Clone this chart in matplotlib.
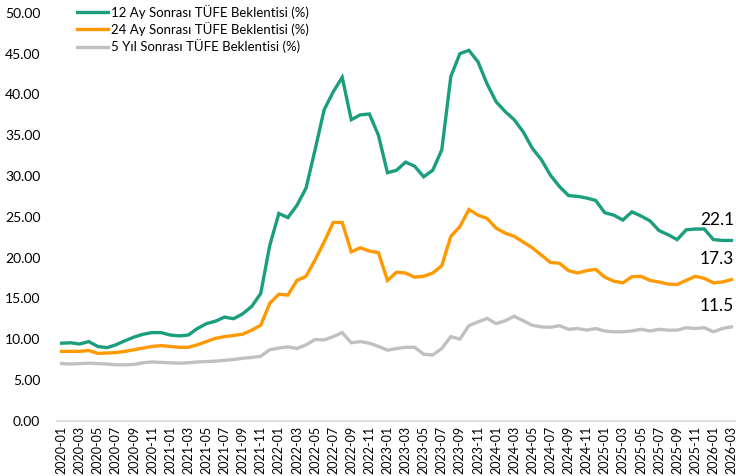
import matplotlib
matplotlib.use("Agg")
import matplotlib.pyplot as plt
import numpy as np
import pandas as pd

# aylar: 2020-01 .. 2026-03
months = pd.period_range("2020-01", "2026-03", freq="M").strftime("%Y-%m").tolist()

# 12 ay sonrasi TUFE beklentisi (%)
tufe_12ay = [
    9.5, 9.55, 9.4, 9.7, 9.1, 8.95, 9.3, 9.8, 10.25, 10.6, 10.8, 10.8,
    10.5, 10.4, 10.5, 11.3, 11.9, 12.2, 12.7, 12.5, 13.1, 14.0, 15.6, 21.5,
    25.4, 24.9, 26.4, 28.5, 33.2, 38.1, 40.3, 42.1, 36.9, 37.5, 37.6, 35.0,
    30.4, 30.7, 31.7, 31.2, 29.9, 30.7, 33.2, 42.2, 45.0, 45.4, 44.0, 41.3,
    39.1, 37.9, 36.9, 35.4, 33.4, 32.0, 30.1, 28.7, 27.6, 27.5, 27.3, 27.0,
    25.5, 25.2, 24.6, 25.6, 25.1, 24.5, 23.3, 22.8, 22.2, 23.4, 23.5, 23.5,
    22.2, 22.1, 22.1,
]

# 24 ay sonrasi
tufe_24ay = [
    8.5, 8.5, 8.5, 8.6, 8.25, 8.3, 8.35, 8.5, 8.7, 8.9, 9.1, 9.2,
    9.1, 9.0, 9.0, 9.3, 9.7, 10.1, 10.3, 10.45, 10.6, 11.1, 11.7, 14.4,
    15.5, 15.4, 17.2, 17.7, 19.7, 21.9, 24.3, 24.3, 20.7, 21.2, 20.8, 20.6,
    17.2, 18.2, 18.1, 17.6, 17.7, 18.1, 19.0, 22.6, 23.8, 25.9, 25.2, 24.8,
    23.6, 23.0, 22.6, 21.9, 21.2, 20.3, 19.4, 19.3, 18.4, 18.1, 18.4, 18.55,
    17.6, 17.1, 16.9, 17.65, 17.7, 17.2, 17.0, 16.75, 16.7, 17.2, 17.7, 17.45,
    16.9, 17.0, 17.3,
]

# 5 yil sonrasi
tufe_5yil = [
    7.0, 6.95, 7.0, 7.05, 7.0, 6.95, 6.85, 6.85, 6.9, 7.1, 7.2, 7.15,
    7.1, 7.05, 7.1, 7.2, 7.25, 7.3, 7.4, 7.5, 7.65, 7.75, 7.9, 8.7,
    8.9, 9.05, 8.85, 9.3, 9.95, 9.9, 10.3, 10.8, 9.55, 9.7, 9.5, 9.1,
    8.65, 8.85, 9.0, 9.0, 8.15, 8.05, 8.85, 10.3, 10.0, 11.65, 12.1, 12.55,
    11.9, 12.25, 12.8, 12.25, 11.7, 11.5, 11.45, 11.65, 11.2, 11.3, 11.1, 11.3,
    11.0, 10.9, 10.9, 11.0, 11.2, 11.0, 11.2, 11.1, 11.1, 11.4, 11.3, 11.4,
    10.9, 11.3, 11.5,
]

labels = [
    "12 Ay Sonrası TÜFE Beklentisi (%)",
    "24 Ay Sonrası TÜFE Beklentisi (%)",
    "5 Yıl Sonrası TÜFE Beklentisi (%)",
]
colors = ["#1b9e7e", "#ff9900", "#c0c0c0"]

plt.rcParams["font.family"] = ["Lato", "DejaVu Sans"]

fig, ax = plt.subplots(figsize=(7.36, 4.76), dpi=100)
fig.subplots_adjust(left=0.0775, right=1.0, top=0.973, bottom=0.1162)

x = np.arange(len(months))
series = [tufe_12ay, tufe_24ay, tufe_5yil]
for vals, lab, col in zip(series, labels, colors):
    ax.plot(x, vals, color=col, lw=2.4, label=lab, solid_joinstyle="miter")
    # son deger etiketi
    ax.annotate(f"{vals[-1]:.1f}", (x[-1], vals[-1]), xytext=(2, 15),
                textcoords="offset points", ha="right", va="center",
                fontsize=12.5, color="black")

ax.set_xlim(-0.5, len(months) - 0.5)
ax.set_ylim(0, 50)
ax.set_yticks(np.arange(0, 50.1, 5))
ax.yaxis.set_major_formatter(matplotlib.ticker.FormatStrFormatter("%.2f"))
ax.set_xticks(x[::2])
ax.set_xticklabels(months[::2], rotation=90)
ax.tick_params(axis="y", length=0, pad=12, labelsize=10)
ax.tick_params(axis="x", length=0, pad=4, labelsize=9)

for s in ["top", "right", "left"]:
    ax.spines[s].set_visible(False)
ax.spines["bottom"].set_color("#d9d9d9")
ax.spines["bottom"].set_linewidth(1.2)

ax.legend(loc="upper left", bbox_to_anchor=(0.029, 1.02), frameon=False,
          fontsize=9.5, handlelength=2.4, handletextpad=0.2,
          labelspacing=0.25, borderpad=0, borderaxespad=0)

fig.savefig("out.png", dpi=100)
